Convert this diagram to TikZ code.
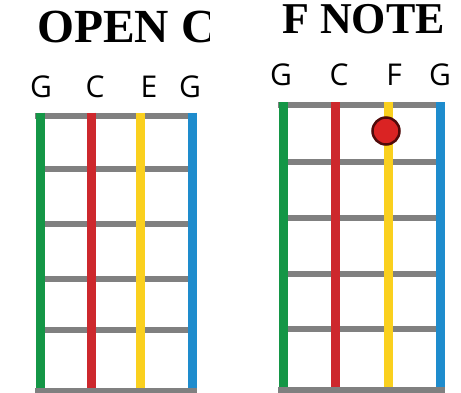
\documentclass[tikz,border=0pt]{standalone}
\usepackage{fontspec}
\setmainfont{Liberation Serif}
\newfontfamily\labfont{Open Sans}
\definecolor{strgreen}{RGB}{20,150,70}
\definecolor{strred}{RGB}{205,40,45}
\definecolor{stryellow}{RGB}{250,208,30}
\definecolor{strblue}{RGB}{30,140,205}
\definecolor{fretgray}{RGB}{128,128,128}
\definecolor{dotred}{RGB}{218,35,35}
\definecolor{dotedge}{RGB}{80,10,10}
\begin{document}
\begin{tikzpicture}[x=1pt,y=-1pt,
  fret/.style={draw=fretgray,line width=6pt},
  string/.style={line width=9pt},
  title/.style={font=\bfseries,anchor=base west,inner sep=0pt},
  lab/.style={font=\labfont\fontsize{30}{30}\selectfont,anchor=base,inner sep=0pt}]
\useasboundingbox (0,0) rectangle (461,392);
% titles
\begin{scope}
\clip (0,0) rectangle (209,60);
\node[title,font=\fontsize{47.5}{47.5}\selectfont\bfseries] (t1) at (37,42) {OPEN C};
\end{scope}
\node[title,font=\fontsize{44}{44}\selectfont\bfseries] (t2) at (282,33) {F NOTE};
% left labels
\node[lab] (l1) at (41,97) {G};
\node[lab] (l2) at (95,97) {C};
\node[lab] (l3) at (149,97) {E};
\node[lab] (l4) at (190,97) {G};
% right labels
\node[lab] (r1) at (281,85) {G};
\node[lab] (r2) at (339,85) {C};
\node[lab] (r3) at (394,85) {F};
\node[lab] (r4) at (440,85) {G};
% left fretboard
\draw[fret] (35,115.5) -- (197,115.5);
\foreach \y in {169,224,279,330} \draw[fret] (40,\y) -- (192,\y);
\draw[string,strgreen] (40,112.5) -- (40,392);
\draw[string,strred] (91,112.5) -- (91,392);
\draw[string,stryellow] (140,112.5) -- (140,392);
\draw[string,strblue] (192,112.5) -- (192,392);
\draw[fret] (35,391) -- (197,391);
% right fretboard
\draw[fret] (278,105) -- (445,105);
\foreach \y in {162,218,274,329} \draw[fret] (283,\y) -- (440,\y);
\draw[string,strgreen] (283,102) -- (283,392);
\draw[string,strred] (335,102) -- (335,392);
\draw[string,stryellow] (388,102) -- (388,392);
\draw[string,strblue] (440,102) -- (440,392);
\draw[fret] (278,390) -- (445,390);
\node[circle,fill=dotred,draw=dotedge,line width=2.5pt,minimum size=27pt,inner sep=0pt] (dot) at (386,131) {};
\end{tikzpicture}
\end{document}
